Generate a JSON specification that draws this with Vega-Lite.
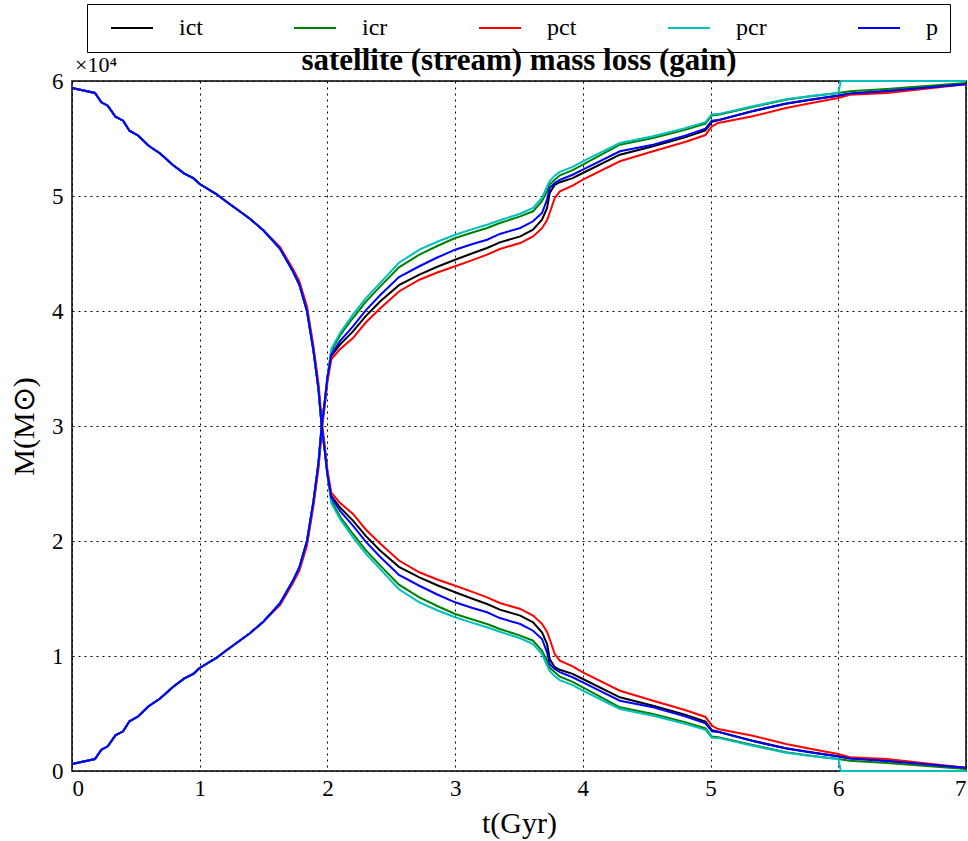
{
  "$schema": "https://vega.github.io/schema/vega-lite/v6.json",
  "autosize": {"type": "none"},
  "padding": {"left": 72, "top": 81, "right": 2, "bottom": 70},
  "width": 894,
  "height": 690,
  "background": "white",
  "title": {"text": "satellite (stream) mass loss (gain)", "font": "Liberation Serif", "fontSize": 31, "fontWeight": "bold", "color": "black", "offset": 6, "dy": 79, "anchor": "middle"},
  "datasets": {
    "mass": [
      {"t": 0.00, "runs": ["ict","icr","pct","pcr","p"], "sat": 59400, "stream": 600},
      {"t": 0.18, "runs": ["ict","icr","pct","pcr","p"], "sat": 58960, "stream": 1040},
      {"t": 0.23, "runs": ["ict","icr","pct","pcr","p"], "sat": 58150, "stream": 1850},
      {"t": 0.28, "runs": ["ict","icr","pct","pcr","p"], "sat": 57850, "stream": 2150},
      {"t": 0.34, "runs": ["ict","icr","pct","pcr","p"], "sat": 56900, "stream": 3100},
      {"t": 0.40, "runs": ["ict","icr","pct","pcr","p"], "sat": 56550, "stream": 3450},
      {"t": 0.45, "runs": ["ict","icr","pct","pcr","p"], "sat": 55680, "stream": 4320},
      {"t": 0.52, "runs": ["ict","icr","pct","pcr","p"], "sat": 55240, "stream": 4760},
      {"t": 0.60, "runs": ["ict","icr","pct","pcr","p"], "sat": 54370, "stream": 5630},
      {"t": 0.69, "runs": ["ict","icr","pct","pcr","p"], "sat": 53700, "stream": 6300},
      {"t": 0.79, "runs": ["ict","icr","pct","pcr","p"], "sat": 52700, "stream": 7300},
      {"t": 0.88, "runs": ["ict","icr","pct","pcr","p"], "sat": 51950, "stream": 8050},
      {"t": 0.95, "runs": ["ict","icr","pct","pcr","p"], "sat": 51550, "stream": 8450},
      {"t": 1.00, "runs": ["ict","icr","pct","pcr","p"], "sat": 51040, "stream": 8960},
      {"t": 1.13, "runs": ["ict","icr","pct","pcr","p"], "sat": 50170, "stream": 9830},
      {"t": 1.21, "runs": ["ict","icr","pct","pcr","p"], "sat": 49500, "stream": 10500},
      {"t": 1.31, "runs": ["ict","icr","pct","pcr","p"], "sat": 48700, "stream": 11300},
      {"t": 1.39, "runs": ["ict","icr","pct","pcr","p"], "sat": 48050, "stream": 11950},
      {"t": 1.50, "runs": ["ict","icr","pct","pcr","p"], "sat": 47000, "stream": 13000},
      {"t": 1.63, "runs": ["ict","icr","pcr","p"], "sat": 45400, "stream": 14600},
      {"t": 1.73, "runs": ["ict","icr","pcr","p"], "sat": 43450, "stream": 16550},
      {"t": 1.78, "runs": ["ict","icr","pcr","p"], "sat": 42300, "stream": 17700},
      {"t": 1.84, "runs": ["ict","icr","pcr","p"], "sat": 40000, "stream": 20000},
      {"t": 1.89, "runs": ["ict","icr","pcr","p"], "sat": 36600, "stream": 23400},
      {"t": 1.93, "runs": ["ict","icr","pcr","p"], "sat": 33200, "stream": 26800},
      {"t": 1.955, "runs": ["ict","icr","pcr","p"], "sat": 30000, "stream": 30000},
      {"t": 1.98, "runs": ["ict","icr","pcr","p"], "sat": 27800, "stream": 32200},
      {"t": 2.00, "runs": ["ict","icr","pcr","p"], "sat": 25800, "stream": 34200},
      {"t": 1.63, "runs": ["pct"], "sat": 45550, "stream": 14450},
      {"t": 1.73, "runs": ["pct"], "sat": 43650, "stream": 16350},
      {"t": 1.78, "runs": ["pct"], "sat": 42600, "stream": 17400},
      {"t": 1.84, "runs": ["pct"], "sat": 40400, "stream": 19600},
      {"t": 1.89, "runs": ["pct"], "sat": 37000, "stream": 23000},
      {"t": 1.93, "runs": ["pct"], "sat": 33700, "stream": 26300},
      {"t": 1.958, "runs": ["pct"], "sat": 30200, "stream": 29800},
      {"t": 1.98, "runs": ["pct"], "sat": 28200, "stream": 31800},
      {"t": 2.00, "runs": ["pct"], "sat": 26200, "stream": 33800},

      {"t": 2.03, "runs": ["pct"], "sat": 24200, "stream": 35800},
      {"t": 2.03, "runs": ["ict"], "sat": 23900, "stream": 36100},
      {"t": 2.03, "runs": ["p"], "sat": 23800, "stream": 36200},
      {"t": 2.03, "runs": ["icr"], "sat": 23500, "stream": 36500},
      {"t": 2.03, "runs": ["pcr"], "sat": 23300, "stream": 36700},
      {"t": 2.10, "runs": ["pct"], "sat": 23300, "stream": 36700},
      {"t": 2.10, "runs": ["ict"], "sat": 22900, "stream": 37100},
      {"t": 2.10, "runs": ["p"], "sat": 22600, "stream": 37400},
      {"t": 2.10, "runs": ["icr"], "sat": 22100, "stream": 37900},
      {"t": 2.10, "runs": ["pcr"], "sat": 21900, "stream": 38100},
      {"t": 2.20, "runs": ["pct"], "sat": 22350, "stream": 37650},
      {"t": 2.20, "runs": ["ict"], "sat": 21770, "stream": 38230},
      {"t": 2.20, "runs": ["p"], "sat": 21330, "stream": 38670},
      {"t": 2.20, "runs": ["icr"], "sat": 20610, "stream": 39390},
      {"t": 2.20, "runs": ["pcr"], "sat": 20320, "stream": 39680},
      {"t": 2.30, "runs": ["pct"], "sat": 21000, "stream": 39000},
      {"t": 2.30, "runs": ["ict"], "sat": 20450, "stream": 39550},
      {"t": 2.30, "runs": ["p"], "sat": 19950, "stream": 40050},
      {"t": 2.30, "runs": ["icr"], "sat": 19200, "stream": 40800},
      {"t": 2.30, "runs": ["pcr"], "sat": 18900, "stream": 41100},
      {"t": 2.41, "runs": ["pct"], "sat": 19800, "stream": 40200},
      {"t": 2.41, "runs": ["ict"], "sat": 19200, "stream": 40800},
      {"t": 2.41, "runs": ["p"], "sat": 18650, "stream": 41350},
      {"t": 2.41, "runs": ["icr"], "sat": 17900, "stream": 42100},
      {"t": 2.41, "runs": ["pcr"], "sat": 17600, "stream": 42400},
      {"t": 2.56, "runs": ["pct"], "sat": 18300, "stream": 41700},
      {"t": 2.56, "runs": ["ict"], "sat": 17750, "stream": 42250},
      {"t": 2.56, "runs": ["p"], "sat": 17050, "stream": 42950},
      {"t": 2.56, "runs": ["icr"], "sat": 16200, "stream": 43800},
      {"t": 2.56, "runs": ["pcr"], "sat": 15800, "stream": 44200},
      {"t": 2.72, "runs": ["pct"], "sat": 17280, "stream": 42720},
      {"t": 2.72, "runs": ["ict"], "sat": 16840, "stream": 43160},
      {"t": 2.72, "runs": ["p"], "sat": 16110, "stream": 43890},
      {"t": 2.72, "runs": ["icr"], "sat": 15100, "stream": 44900},
      {"t": 2.72, "runs": ["pcr"], "sat": 14670, "stream": 45330},
      {"t": 2.86, "runs": ["pct"], "sat": 16650, "stream": 43350},
      {"t": 2.86, "runs": ["ict"], "sat": 16150, "stream": 43850},
      {"t": 2.86, "runs": ["p"], "sat": 15350, "stream": 44650},
      {"t": 2.86, "runs": ["icr"], "sat": 14350, "stream": 45650},
      {"t": 2.86, "runs": ["pcr"], "sat": 13980, "stream": 46020},
      {"t": 3.00, "runs": ["pct"], "sat": 16110, "stream": 43890},
      {"t": 3.00, "runs": ["ict"], "sat": 15540, "stream": 44460},
      {"t": 3.00, "runs": ["p"], "sat": 14670, "stream": 45330},
      {"t": 3.00, "runs": ["icr"], "sat": 13650, "stream": 46350},
      {"t": 3.00, "runs": ["pcr"], "sat": 13370, "stream": 46630},
      {"t": 3.13, "runs": ["pct"], "sat": 15600, "stream": 44400},
      {"t": 3.13, "runs": ["ict"], "sat": 15000, "stream": 45000},
      {"t": 3.13, "runs": ["p"], "sat": 14200, "stream": 45800},
      {"t": 3.13, "runs": ["icr"], "sat": 13200, "stream": 46800},
      {"t": 3.13, "runs": ["pcr"], "sat": 12900, "stream": 47100},
      {"t": 3.25, "runs": ["pct"], "sat": 15100, "stream": 44900},
      {"t": 3.25, "runs": ["ict"], "sat": 14520, "stream": 45480},
      {"t": 3.25, "runs": ["p"], "sat": 13800, "stream": 46200},
      {"t": 3.25, "runs": ["icr"], "sat": 12780, "stream": 47220},
      {"t": 3.25, "runs": ["pcr"], "sat": 12500, "stream": 47500},
      {"t": 3.35, "runs": ["pct"], "sat": 14610, "stream": 45390},
      {"t": 3.35, "runs": ["ict"], "sat": 14030, "stream": 45970},
      {"t": 3.35, "runs": ["p"], "sat": 13300, "stream": 46700},
      {"t": 3.35, "runs": ["icr"], "sat": 12350, "stream": 47650},
      {"t": 3.35, "runs": ["pcr"], "sat": 12110, "stream": 47890},
      {"t": 3.51, "runs": ["pct"], "sat": 14090, "stream": 45910},
      {"t": 3.51, "runs": ["ict"], "sat": 13510, "stream": 46490},
      {"t": 3.51, "runs": ["p"], "sat": 12780, "stream": 47220},
      {"t": 3.51, "runs": ["icr"], "sat": 11770, "stream": 48230},
      {"t": 3.51, "runs": ["pcr"], "sat": 11540, "stream": 48460},
      {"t": 3.61, "runs": ["pct"], "sat": 13510, "stream": 46490},
      {"t": 3.61, "runs": ["ict"], "sat": 12930, "stream": 47070},
      {"t": 3.61, "runs": ["p"], "sat": 12200, "stream": 47800},
      {"t": 3.61, "runs": ["icr"], "sat": 11330, "stream": 48670},
      {"t": 3.61, "runs": ["pcr"], "sat": 11040, "stream": 48960},
      {"t": 3.68, "runs": ["pct"], "sat": 12800, "stream": 47200},
      {"t": 3.68, "runs": ["ict"], "sat": 12060, "stream": 47940},
      {"t": 3.68, "runs": ["p"], "sat": 11480, "stream": 48520},
      {"t": 3.68, "runs": ["icr"], "sat": 10460, "stream": 49540},
      {"t": 3.68, "runs": ["pcr"], "sat": 10170, "stream": 49830},
      {"t": 3.72, "runs": ["pct"], "sat": 12100, "stream": 47900},
      {"t": 3.72, "runs": ["ict"], "sat": 11040, "stream": 48960},
      {"t": 3.72, "runs": ["p"], "sat": 10320, "stream": 49680},
      {"t": 3.72, "runs": ["icr"], "sat": 9590, "stream": 50410},
      {"t": 3.72, "runs": ["pcr"], "sat": 9160, "stream": 50840},
      {"t": 3.74, "runs": ["pct"], "sat": 11480, "stream": 48520},
      {"t": 3.74, "runs": ["ict"], "sat": 9740, "stream": 50260},
      {"t": 3.74, "runs": ["p"], "sat": 9300, "stream": 50700},
      {"t": 3.74, "runs": ["icr"], "sat": 9000, "stream": 51000},
      {"t": 3.74, "runs": ["pcr"], "sat": 8700, "stream": 51300},
      {"t": 3.78, "runs": ["pct"], "sat": 10170, "stream": 49830},
      {"t": 3.78, "runs": ["ict"], "sat": 9020, "stream": 50980},
      {"t": 3.78, "runs": ["p"], "sat": 8870, "stream": 51130},
      {"t": 3.78, "runs": ["icr"], "sat": 8580, "stream": 51420},
      {"t": 3.78, "runs": ["pcr"], "sat": 8230, "stream": 51770},
      {"t": 3.82, "runs": ["pct"], "sat": 9590, "stream": 50410},
      {"t": 3.82, "runs": ["ict"], "sat": 8800, "stream": 51200},
      {"t": 3.82, "runs": ["p"], "sat": 8600, "stream": 51400},
      {"t": 3.82, "runs": ["icr"], "sat": 8200, "stream": 51800},
      {"t": 3.82, "runs": ["pcr"], "sat": 7900, "stream": 52100},
      {"t": 3.92, "runs": ["pct"], "sat": 9100, "stream": 50900},
      {"t": 3.92, "runs": ["ict"], "sat": 8450, "stream": 51550},
      {"t": 3.92, "runs": ["p"], "sat": 8150, "stream": 51850},
      {"t": 3.92, "runs": ["icr"], "sat": 7750, "stream": 52250},
      {"t": 3.92, "runs": ["pcr"], "sat": 7470, "stream": 52530},
      {"t": 4.00, "runs": ["pct"], "sat": 8580, "stream": 51420},
      {"t": 4.00, "runs": ["ict"], "sat": 8000, "stream": 52000},
      {"t": 4.00, "runs": ["p"], "sat": 7710, "stream": 52290},
      {"t": 4.00, "runs": ["icr"], "sat": 7280, "stream": 52720},
      {"t": 4.00, "runs": ["pcr"], "sat": 6980, "stream": 53020},
      {"t": 4.29, "runs": ["pct"], "sat": 6980, "stream": 53020},
      {"t": 4.29, "runs": ["ict"], "sat": 6410, "stream": 53590},
      {"t": 4.29, "runs": ["p"], "sat": 6110, "stream": 53890},
      {"t": 4.29, "runs": ["icr"], "sat": 5540, "stream": 54460},
      {"t": 4.29, "runs": ["pcr"], "sat": 5390, "stream": 54610},
      {"t": 4.55, "runs": ["pct"], "sat": 6110, "stream": 53890},
      {"t": 4.55, "runs": ["ict"], "sat": 5680, "stream": 54320},
      {"t": 4.55, "runs": ["p"], "sat": 5540, "stream": 54460},
      {"t": 4.55, "runs": ["icr"], "sat": 4960, "stream": 55040},
      {"t": 4.55, "runs": ["pcr"], "sat": 4810, "stream": 55190},
      {"t": 4.80, "runs": ["pct"], "sat": 5300, "stream": 54700},
      {"t": 4.80, "runs": ["ict"], "sat": 4900, "stream": 55100},
      {"t": 4.80, "runs": ["p"], "sat": 4750, "stream": 55250},
      {"t": 4.80, "runs": ["icr"], "sat": 4250, "stream": 55750},
      {"t": 4.80, "runs": ["pcr"], "sat": 4100, "stream": 55900},
      {"t": 4.96, "runs": ["pct"], "sat": 4700, "stream": 55300},
      {"t": 4.96, "runs": ["ict"], "sat": 4300, "stream": 55700},
      {"t": 4.96, "runs": ["p"], "sat": 4150, "stream": 55850},
      {"t": 4.96, "runs": ["icr"], "sat": 3700, "stream": 56300},
      {"t": 4.96, "runs": ["pcr"], "sat": 3580, "stream": 56420},
      {"t": 5.01, "runs": ["pct"], "sat": 3940, "stream": 56060},
      {"t": 5.01, "runs": ["ict"], "sat": 3550, "stream": 56450},
      {"t": 5.01, "runs": ["p"], "sat": 3450, "stream": 56550},
      {"t": 5.01, "runs": ["icr"], "sat": 3000, "stream": 57000},
      {"t": 5.01, "runs": ["pcr"], "sat": 2900, "stream": 57100},
      {"t": 5.06, "runs": ["pct"], "sat": 3650, "stream": 56350},
      {"t": 5.06, "runs": ["ict"], "sat": 3420, "stream": 56580},
      {"t": 5.06, "runs": ["p"], "sat": 3400, "stream": 56600},
      {"t": 5.06, "runs": ["icr"], "sat": 2930, "stream": 57070},
      {"t": 5.06, "runs": ["pcr"], "sat": 2880, "stream": 57120},
      {"t": 5.33, "runs": ["pct"], "sat": 3070, "stream": 56930},
      {"t": 5.33, "runs": ["ict"], "sat": 2630, "stream": 57370},
      {"t": 5.33, "runs": ["p"], "sat": 2600, "stream": 57400},
      {"t": 5.33, "runs": ["icr"], "sat": 2260, "stream": 57740},
      {"t": 5.33, "runs": ["pcr"], "sat": 2200, "stream": 57800},
      {"t": 5.59, "runs": ["pct"], "sat": 2350, "stream": 57650},
      {"t": 5.59, "runs": ["ict"], "sat": 1970, "stream": 58030},
      {"t": 5.59, "runs": ["p"], "sat": 1950, "stream": 58050},
      {"t": 5.59, "runs": ["icr"], "sat": 1630, "stream": 58370},
      {"t": 5.59, "runs": ["pcr"], "sat": 1580, "stream": 58420},
      {"t": 5.80, "runs": ["pct"], "sat": 1900, "stream": 58100},
      {"t": 5.80, "runs": ["ict"], "sat": 1600, "stream": 58400},
      {"t": 5.80, "runs": ["p"], "sat": 1580, "stream": 58420},
      {"t": 5.80, "runs": ["icr"], "sat": 1300, "stream": 58700},
      {"t": 5.80, "runs": ["pcr"], "sat": 1280, "stream": 58720},
      {"t": 6.00, "runs": ["pct"], "sat": 1480, "stream": 58520},
      {"t": 6.00, "runs": ["ict"], "sat": 1280, "stream": 58720},
      {"t": 6.00, "runs": ["p"], "sat": 1260, "stream": 58740},
      {"t": 6.00, "runs": ["icr"], "sat": 1040, "stream": 58960},
      {"t": 6.00, "runs": ["pcr"], "sat": 1040, "stream": 58960},
      {"t": 6.02, "runs": ["pcr"], "sat": 0, "stream": 60000},
      {"t": 6.09, "runs": ["pct"], "sat": 1190, "stream": 58810},
      {"t": 6.09, "runs": ["ict"], "sat": 1100, "stream": 58900},
      {"t": 6.09, "runs": ["p"], "sat": 1080, "stream": 58920},
      {"t": 6.09, "runs": ["icr"], "sat": 900, "stream": 59100},
      {"t": 6.38, "runs": ["pct"], "sat": 1040, "stream": 58960},
      {"t": 6.38, "runs": ["ict"], "sat": 900, "stream": 59100},
      {"t": 6.38, "runs": ["p"], "sat": 880, "stream": 59120},
      {"t": 6.38, "runs": ["icr"], "sat": 700, "stream": 59300},
      {"t": 7.00, "runs": ["pct"], "sat": 280, "stream": 59720},
      {"t": 7.00, "runs": ["ict"], "sat": 250, "stream": 59750},
      {"t": 7.00, "runs": ["p"], "sat": 280, "stream": 59720},
      {"t": 7.00, "runs": ["icr"], "sat": 180, "stream": 59820},
      {"t": 7.00, "runs": ["pcr"], "sat": 0, "stream": 60000}
    ],
    "note": [{"label": "×10⁴", "t": 0, "M": 60000}]
  },
  "layer": [
    {
      "data": {"name": "mass"},
      "transform": [
        {"flatten": ["runs"], "as": ["run"]},
        {"fold": ["sat", "stream"], "as": ["branch", "M"]}
      ],
      "mark": {"type": "line", "strokeWidth": 2, "interpolate": "linear"},
      "encoding": {
        "x": {"field": "t", "type": "quantitative", "scale": {"domain": [0, 7], "nice": false},
              "axis": {"values": [0, 1, 2, 3, 4, 5, 6, 7], "format": "d", "title": "t(Gyr)"}},
        "y": {"field": "M", "type": "quantitative", "scale": {"domain": [0, 60000], "nice": false},
              "axis": {"values": [0, 10000, 20000, 30000, 40000, 50000, 60000], "labelExpr": "datum.value / 10000", "title": "M(M⊙)"}},
        "color": {"field": "run", "type": "nominal",
                  "scale": {"domain": ["ict", "icr", "pct", "pcr", "p"], "range": ["#000000", "#008000", "#ff0000", "#00bfbf", "#0000ff"]},
                  "legend": {"title": null}},
        "detail": {"field": "branch"},
        "order": {"field": "t", "type": "quantitative"}
      }
    },
    {
      "data": {"name": "note"},
      "mark": {"type": "text", "align": "left", "baseline": "bottom", "dx": 3, "dy": -4, "font": "Liberation Serif", "fontSize": 22, "color": "black"},
      "encoding": {
        "x": {"field": "t", "type": "quantitative"},
        "y": {"field": "M", "type": "quantitative"},
        "text": {"field": "label"}
      }
    }
  ],
  "config": {
    "view": {"stroke": "black", "strokeWidth": 1.5},
    "axis": {
      "grid": true, "gridColor": "black", "gridDash": [2, 4], "gridWidth": 1, "gridOpacity": 1,
      "domain": false, "ticks": false,
      "labelFont": "Liberation Serif", "labelFontSize": 23, "labelColor": "black",
      "titleFont": "Liberation Serif", "titleFontSize": 30, "titleFontWeight": "normal", "titleColor": "black"
    },
    "axisX": {"labelPadding": 6, "titlePadding": 8},
    "axisY": {"labelPadding": 9, "titlePadding": 12},
    "legend": {
      "orient": "none", "legendX": 15, "legendY": -77, "direction": "horizontal", "columns": 5,
      "symbolType": "M0,0H6", "symbolSize": 196, "symbolStrokeWidth": 2,
      "labelFont": "Liberation Serif", "labelFontSize": 24, "labelColor": "black", "labelOffset": 56,
      "columnPadding": 79, "padding": 12, "strokeColor": "black", "fillColor": "white"
    }
  }
}
